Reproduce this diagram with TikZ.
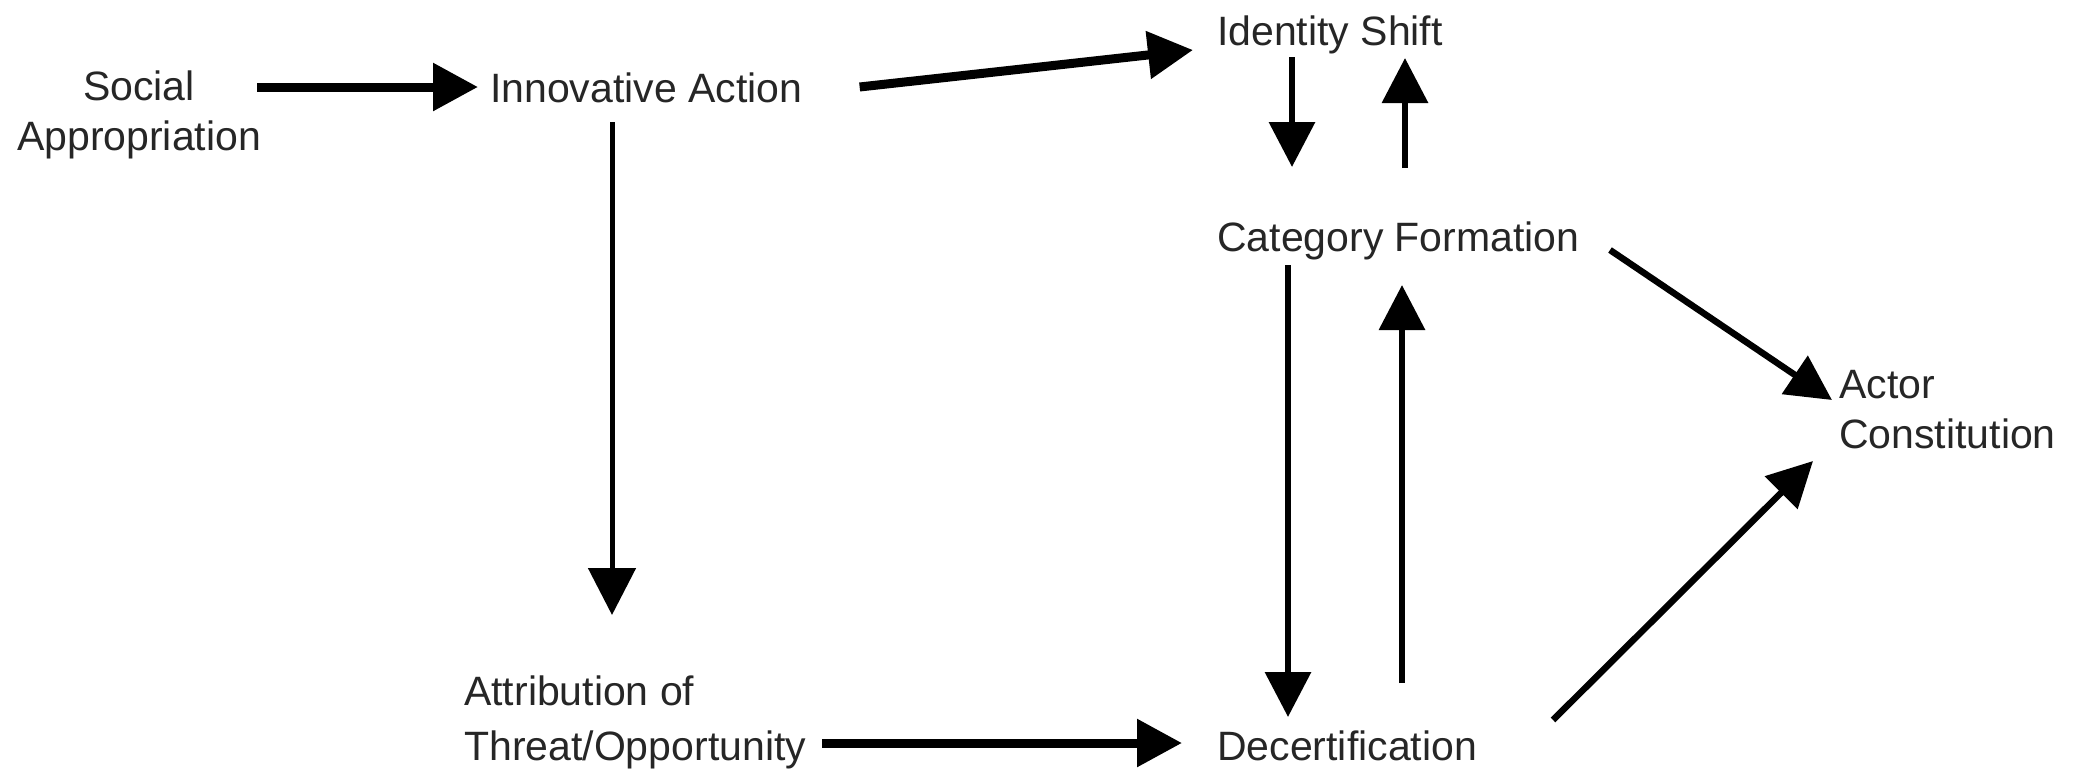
\documentclass[tikz,border=0pt]{standalone}
\usepackage{fontspec}
\setmainfont{Liberation Sans}
\usetikzlibrary{arrows.meta,calc}
\begin{document}
\begin{tikzpicture}[x=1pt,y=-1pt,
  lbl/.style={inner sep=0pt, font=\fontsize{41}{50}\selectfont, text=black!85},
  bigarr/.style={line width=9pt, -{Triangle[length=45pt,width=46pt]}},
  midarr/.style={line width=6.5pt, -{Triangle[length=45pt,width=45pt]}},
  thinarr/.style={line width=5pt, -{Triangle[length=47pt,width=47pt]}}]
\useasboundingbox[fill=white] (0,0) rectangle (2078,780);

\node[lbl, anchor=base, align=center] (soc) at (139,150) {Social\\Appropriation};
\node[lbl, anchor=base west] (inn) at (490,102) {Innovative Action};
\node[lbl, anchor=base west] (ids) at (1217,45) {Identity Shift};
\node[lbl, anchor=base west] (cat) at (1217,251) {Category Formation};
\node[lbl, anchor=base west] (dec) at (1217,760) {Decertification};
\node[lbl, anchor=base west, align=left] (att) at (464,760) {Attribution of\\[5pt]Threat/Opportunity};
\node[lbl, anchor=base west, align=left] (act) at (1839,448) {Actor\\Constitution};

% connectors
\draw[bigarr] ($(soc.east |- inn.base west)+(-4,-15)$) -- ($(inn.base west)+(-12,-15)$);
\draw[bigarr] ($(inn.base east)+(57,-15)$) -- ($(ids.base west)+(-24,5)$);
\draw[midarr] ($(ids.base west)+(75,12)$) -- ($(cat.base west)+(75,-84)$);
\draw[midarr] ($(cat.base west)+(188,-83)$) -- ($(ids.base west)+(188,13)$);
\draw[thinarr] ($(inn.base west)+(122,20)$) -- ($(att.base west)+(148,-145)$);
\draw[midarr] ($(cat.base west)+(71,14)$) -- ($(dec.base west)+(71,-43)$);
\draw[midarr] ($(dec.base west)+(185,-77)$) -- ($(cat.base west)+(185,34)$);
\draw[midarr] ($(cat.base west)+(393,-1)$) -- ($(act.base west)+(-7,-48)$);
\draw[midarr] ($(dec.base west)+(336,-40)$) -- ($(act.base west)+(-26,13)$);
\draw[bigarr] ($(att.base west)+(358,-17)$) -- ($(dec.base west)+(-35,-17)$);
\end{tikzpicture}
\end{document}
